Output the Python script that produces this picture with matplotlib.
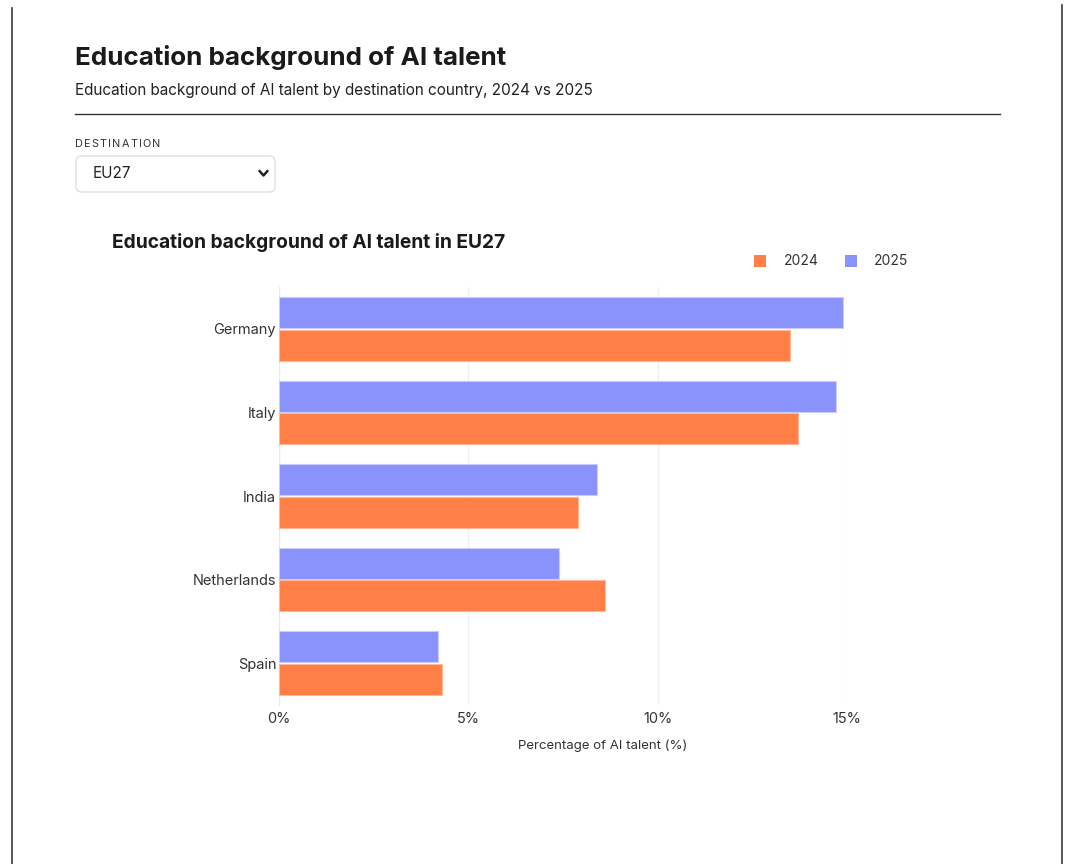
import matplotlib
matplotlib.use("Agg")
import matplotlib.pyplot as plt
from matplotlib.patches import FancyBboxPatch, Rectangle
from matplotlib.lines import Line2D
import numpy as np

plt.rcParams['font.family'] = ['Inter', 'DejaVu Sans']

# Data
countries = ["Germany", "Italy", "India", "Netherlands", "Spain"]
share_2024 = [13.5, 13.7, 7.9, 8.6, 4.3]
share_2025 = [14.9, 14.7, 8.4, 7.4, 4.2]
x_ticks = [0, 5, 10, 15]
x_tick_labels = ["0%", "5%", "10%", "15%"]

ORANGE = "#FF7F47"
BLUE = "#8A92FC"
W, H = 1070, 864

fig = plt.figure(figsize=(W / 100, H / 100), dpi=100)
fig.patch.set_facecolor("white")


def fx(px):
    return px / W


def fy(py):
    return 1 - py / H


def spaced_text(x_px, y_px, s, spacing_px, **kw):
    """Draw text one character at a time with extra tracking."""
    renderer = fig.canvas.get_renderer()
    x = x_px
    for ch in s:
        t = fig.text(fx(x), fy(y_px), ch, ha="left", va="center", **kw)
        w = t.get_window_extent(renderer=renderer).width
        x += w + spacing_px


# Page frame edges
fig.add_artist(Line2D([fx(12), fx(12)], [fy(8), fy(864)], color="#3a3a3a", lw=1.2))
fig.add_artist(Line2D([fx(1062), fx(1062)], [fy(5), fy(864)], color="#3a3a3a", lw=1.2))

# Header
fig.text(fx(75), fy(57), "Education background of AI talent", fontsize=18.7,
         fontweight="bold", color="#1a1a1a", va="center", ha="left")
fig.text(fx(75), fy(90), "Education background of AI talent by destination country, 2024 vs 2025",
         fontsize=11, color="#222222", va="center", ha="left")
fig.add_artist(Line2D([fx(75), fx(1000)], [fy(114), fy(114)], color="#333333", lw=1.0))

# Destination selector
spaced_text(75, 144, "DESTINATION", 1.2, fontsize=7.8, color="#333333")
box = FancyBboxPatch((fx(76), fy(192)), fx(199), 36 / H,
                     boxstyle="round,pad=0,rounding_size=0.006",
                     transform=fig.transFigure, facecolor="white",
                     edgecolor="#e0e0e0", lw=1.0)
fig.add_artist(box)
fig.text(fx(93), fy(174), "EU27", fontsize=11, color="#222222", va="center", ha="left")
fig.add_artist(Line2D([fx(259.5), fx(263.5), fx(267.5)], [fy(171), fy(175.5), fy(171)],
                      color="#222222", lw=1.8, solid_capstyle="round", solid_joinstyle="round"))

# Chart title and legend
fig.text(fx(112), fy(243), "Education background of AI talent in EU27", fontsize=13.8,
         fontweight="bold", color="#1a1a1a", va="center", ha="left")
fig.add_artist(Rectangle((fx(754), fy(267)), fx(12), 12 / H, transform=fig.transFigure,
                         facecolor=ORANGE, edgecolor="none"))
fig.text(fx(784), fy(261), "2024", fontsize=10, color="#333333", va="center", ha="left")
fig.add_artist(Rectangle((fx(845), fy(267)), fx(12), 12 / H, transform=fig.transFigure,
                         facecolor=BLUE, edgecolor="none"))
fig.text(fx(874), fy(261), "2025", fontsize=10, color="#333333", va="center", ha="left")

# Bar chart
ax = fig.add_axes([fx(279), fy(705), fx(847 - 279), (705 - 287) / H])
y = np.arange(len(countries))
h = 0.37
ax.barh(y - h / 2 - 0.01, share_2025, height=h, color=BLUE, edgecolor="#C9CDFE", lw=0.8, zorder=3)
ax.barh(y + h / 2 + 0.01, share_2024, height=h, color=ORANGE, edgecolor="#FFB795", lw=0.8, zorder=3)

ax.set_xlim(0, 15)
ax.set_ylim(len(countries) - 0.5, -0.5)
ax.set_yticks(y)
ax.set_yticklabels(countries, fontsize=10.5, color="#333333")
ax.set_xticks(x_ticks)
ax.set_xticklabels(x_tick_labels, fontsize=10.5, color="#333333")
ax.tick_params(axis="both", length=0)
ax.tick_params(axis="y", pad=2)
ax.tick_params(axis="x", pad=5)
ax.grid(axis="x", color="#EEF0F5", lw=1.0, zorder=0)
for s in ["top", "right", "bottom"]:
    ax.spines[s].set_visible(False)
ax.spines["left"].set_color("#E6E9F2")
fig.text(fx(603), fy(746), "Percentage of AI talent (%)", fontsize=9.5, color="#333333",
         ha="center", va="center")

fig.savefig("out.png", dpi=100, facecolor="white")
